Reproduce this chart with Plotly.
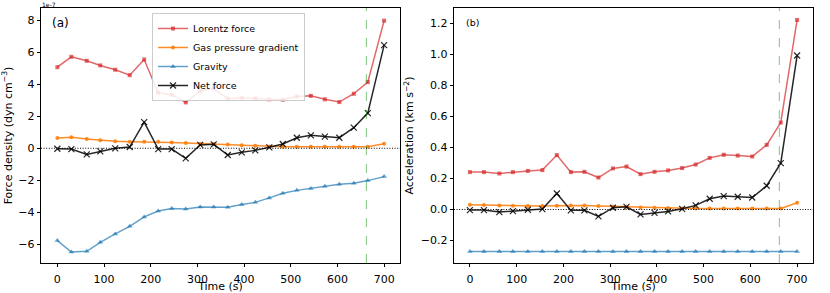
import plotly.graph_objects as go

# Time (s)
time_s = [0, 30, 63, 92, 124, 155, 186, 216, 245, 275, 306, 335, 365, 395, 424, 454, 483, 513, 543, 573, 604, 635, 665, 700]
event_time = 662

# Panel (a): force density, in units of 1e-7 dyn cm^-3
lorentz_a = [5.07, 5.72, 5.47, 5.18, 4.91, 4.57, 5.55, 3.47, 3.35, 2.87, 3.58, 3.74, 3.10, 3.16, 3.12, 3.06, 3.04, 3.24, 3.28, 3.06, 2.89, 3.41, 4.14, 7.98]
gas_a = [0.64, 0.69, 0.58, 0.50, 0.44, 0.41, 0.41, 0.41, 0.37, 0.33, 0.29, 0.27, 0.23, 0.19, 0.16, 0.12, 0.10, 0.10, 0.10, 0.10, 0.10, 0.10, 0.10, 0.29]
gravity_a = [-5.77, -6.48, -6.44, -5.88, -5.35, -4.88, -4.29, -3.92, -3.77, -3.79, -3.67, -3.67, -3.69, -3.52, -3.38, -3.10, -2.81, -2.63, -2.52, -2.38, -2.25, -2.19, -2.02, -1.77]
net_a = [-0.03, -0.05, -0.38, -0.19, 0.00, 0.08, 1.64, -0.05, -0.05, -0.63, 0.21, 0.25, -0.42, -0.25, -0.13, 0.06, 0.27, 0.66, 0.81, 0.73, 0.66, 1.29, 2.20, 6.45]

# Panel (b): acceleration, km s^-2
lorentz_b = [0.241, 0.241, 0.232, 0.241, 0.249, 0.254, 0.351, 0.241, 0.243, 0.206, 0.265, 0.277, 0.228, 0.243, 0.252, 0.267, 0.290, 0.333, 0.353, 0.348, 0.342, 0.417, 0.561, 1.224]
gas_b = [0.030, 0.028, 0.026, 0.024, 0.022, 0.022, 0.024, 0.026, 0.026, 0.022, 0.019, 0.017, 0.013, 0.011, 0.009, 0.006, 0.006, 0.006, 0.006, 0.006, 0.006, 0.006, 0.006, 0.043]
gravity_b = [-0.272, -0.272, -0.272, -0.272, -0.272, -0.272, -0.272, -0.272, -0.272, -0.272, -0.272, -0.272, -0.272, -0.272, -0.272, -0.272, -0.272, -0.272, -0.272, -0.272, -0.272, -0.272, -0.272, -0.272]
net_b = [-0.004, -0.004, -0.017, -0.011, -0.002, 0.002, 0.103, -0.006, -0.006, -0.045, 0.011, 0.017, -0.032, -0.022, -0.013, 0.004, 0.026, 0.069, 0.086, 0.082, 0.077, 0.153, 0.299, 0.994]

names = ["Lorentz force", "Gas pressure gradient", "Gravity", "Net force"]
colors = ["rgba(214,39,40,0.7)", "rgba(255,127,14,0.9)", "rgba(31,119,180,0.7)", "rgba(0,0,0,0.85)"]
symbols = ["square", "circle", "triangle-up", "x-thin"]
sizes = [4, 4, 5, 6]

FONT = "DejaVu Sans"
W, H = 830, 293
ML, MR, MT, MB = 41, 17, 8, 30
PW = W - ML - MR
PH = H - MT - MB


def px_x(px):
    return (px - ML) / PW


def px_y(py):
    return 1 - (py - MT) / PH


fig = go.Figure()

series_a = [lorentz_a, gas_a, gravity_a, net_a]
series_b = [lorentz_b, gas_b, gravity_b, net_b]
for panel, series in [(1, series_a), (2, series_b)]:
    for i in range(4):
        mk = dict(symbol=symbols[i], size=sizes[i], color=colors[i])
        if symbols[i] == "x-thin":
            mk["line"] = dict(width=1.2, color=colors[i])
        fig.add_trace(go.Scatter(x=time_s, y=series[i], mode="lines+markers", name=names[i],
                                 line=dict(color=colors[i], width=1.5), marker=mk,
                                 xaxis="x" if panel == 1 else "x2",
                                 yaxis="y" if panel == 1 else "y2",
                                 showlegend=(panel == 1)))

axis_common = dict(showline=True, linecolor="black", linewidth=0.8, mirror=True,
                   ticks="outside", ticklen=3.5, tickwidth=0.8, tickcolor="black",
                   showgrid=False, zeroline=False, automargin=False,
                   tickfont=dict(family=FONT, size=11, color="black"))

xticks = [0, 100, 200, 300, 400, 500, 600, 700]
fig.update_layout(
    width=W, height=H, autosize=False,
    margin=dict(l=ML, r=MR, t=MT, b=MB, autoexpand=False),
    plot_bgcolor="white", paper_bgcolor="white",
    font=dict(family=FONT, size=11, color="black"),
    xaxis=dict(domain=[0, px_x(400)], range=[-35, 734], tickvals=xticks, ticklabelstandoff=2,
               title=dict(text="Time (s)", font=dict(size=11), standoff=1), anchor="y", **axis_common),
    yaxis=dict(domain=[0, 1], range=[-7.17, 8.77], tickvals=[-6, -4, -2, 0, 2, 4, 6, 8],
               title=dict(text="Force density (dyn cm<sup>−3</sup>)", font=dict(size=11), standoff=4),
               anchor="x", **axis_common),
    xaxis2=dict(domain=[px_x(454), 1], range=[-34, 734], tickvals=xticks, ticklabelstandoff=2,
                title=dict(text="Time (s)", font=dict(size=11), standoff=1), anchor="y2", **axis_common),
    yaxis2=dict(domain=[0, 1], range=[-0.346, 1.301],
                tickvals=[-0.2, 0.0, 0.2, 0.4, 0.6, 0.8, 1.0, 1.2], tickformat=".1f",
                title=dict(text="Acceleration (km s<sup>−2</sup>)", font=dict(size=11), standoff=4),
                anchor="x2", **axis_common),
    legend=dict(x=px_x(152), y=px_y(13), xanchor="left", yanchor="top",
                bgcolor="rgba(255,255,255,0.85)", bordercolor="#cccccc", borderwidth=1,
                font=dict(family=FONT, size=9.5, color="black"), tracegroupgap=0,
                itemwidth=30),
    showlegend=True,
)

for xr, yr in [("x", "y"), ("x2", "y2")]:
    fig.add_shape(type="line", xref=xr, yref=yr + " domain", x0=event_time, x1=event_time, y0=0, y1=1,
                  line=dict(color="rgba(44,160,44,0.6)", width=1, dash="dash"))
    fig.add_shape(type="line", xref=xr + " domain", yref=yr, x0=0, x1=1, y0=0, y1=0,
                  line=dict(color="black", width=1.1, dash="1px,1.6px"))

fig.add_annotation(text="1e-7", xref="paper", yref="paper", x=px_x(41), y=px_y(4.5), xanchor="left",
                   yanchor="middle", showarrow=False, borderpad=0,
                   font=dict(family=FONT, size=6, color="black"))
fig.add_annotation(text="(a)", xref="paper", yref="paper", x=px_x(50), y=px_y(22.5),
                   xanchor="left", yanchor="middle", showarrow=False,
                   font=dict(family=FONT, size=12, color="black"))
fig.add_annotation(text="(b)", xref="paper", yref="paper", x=px_x(464), y=px_y(22),
                   xanchor="left", yanchor="middle", showarrow=False,
                   font=dict(family=FONT, size=9.5, color="black"))

fig.write_html("out.html", config={"displayModeBar": False},
               post_script="document.body.style.margin='0';document.body.style.overflow='hidden';")
